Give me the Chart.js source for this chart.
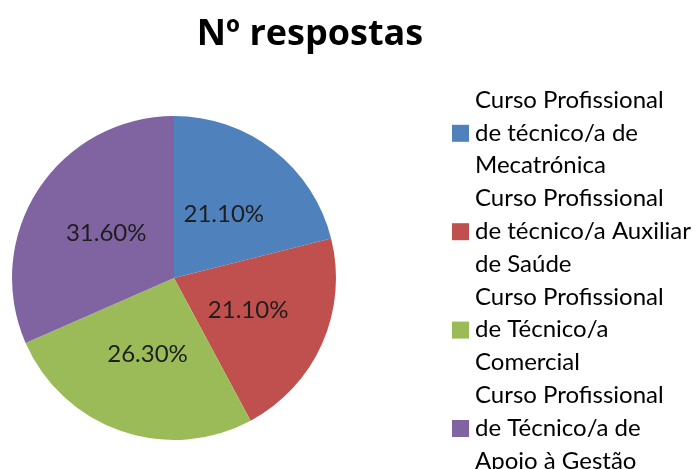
<!DOCTYPE html>
<html>
<head>
<meta charset="utf-8">
<script src="https://cdn.jsdelivr.net/npm/chart.js@4"></script>
<style>
  html, body { margin: 0; padding: 0; background: #fff; }
  #wrap { width: 697px; height: 469px; }
</style>
</head>
<body>
<div id="wrap"><canvas id="respostasChart" width="697" height="469"></canvas></div>
<script>
// chart data
const chartTitle = 'Nº respostas';
const categories = [
  ['Curso Profissional', 'de técnico/a de', 'Mecatrónica'],
  ['Curso Profissional', 'de técnico/a Auxiliar', 'de Saúde'],
  ['Curso Profissional', 'de Técnico/a', 'Comercial'],
  ['Curso Profissional', 'de Técnico/a de', 'Apoio à Gestão']
];
const percentages = [21.1, 21.1, 26.3, 31.6];
const sliceColors = ['#4F81BD', '#C0504D', '#9BBB59', '#8064A2'];

const FONT = 'Lato, "Open Sans", sans-serif';

// title, slice labels and the wrapped legend on the right
const decorPlugin = {
  id: 'decor',
  afterDatasetsDraw(chart) {
    const ctx = chart.ctx;
    const arcs = chart.getDatasetMeta(0).data;
    ctx.save();
    ctx.font = '24px ' + FONT;
    ctx.fillStyle = '#1e1e1e';
    ctx.textAlign = 'center';
    ctx.textBaseline = 'middle';
    arcs.forEach((arc, i) => {
      const p = arc.getCenterPoint();
      ctx.fillText(percentages[i].toFixed(2) + '%', p.x, p.y);
    });
    ctx.restore();
  },
  afterDraw(chart) {
    const ctx = chart.ctx;
    ctx.save();
    // title
    ctx.font = 'bold 36px "Open Sans", sans-serif';
    ctx.fillStyle = '#000';
    ctx.textAlign = 'center';
    ctx.textBaseline = 'middle';
    ctx.fillText(chartTitle, 310, 35);

    // legend
    ctx.font = '24px ' + FONT;
    ctx.textAlign = 'left';
    const lineH = 32.8;
    let y = 100;
    categories.forEach((lines, i) => {
      ctx.fillStyle = sliceColors[i];
      ctx.fillRect(452, y + lineH - 8, 17, 17);
      ctx.fillStyle = '#000';
      lines.forEach((t, j) => ctx.fillText(t, 475, y + j * lineH));
      y += lines.length * lineH;
    });
    ctx.restore();
  }
};

new Chart(document.getElementById('respostasChart'), {
  type: 'pie',
  data: {
    labels: categories.map(l => l.join(' ')),
    datasets: [{
      data: percentages,
      backgroundColor: sliceColors,
      borderWidth: 0
    }]
  },
  options: {
    responsive: false,
    animation: false,
    layout: { padding: { left: 12, top: 116, right: 361, bottom: 29 } },
    plugins: {
      legend: { display: false },
      title: { display: false },
      tooltip: { enabled: false }
    }
  },
  plugins: [decorPlugin]
});
</script>
</body>
</html>
